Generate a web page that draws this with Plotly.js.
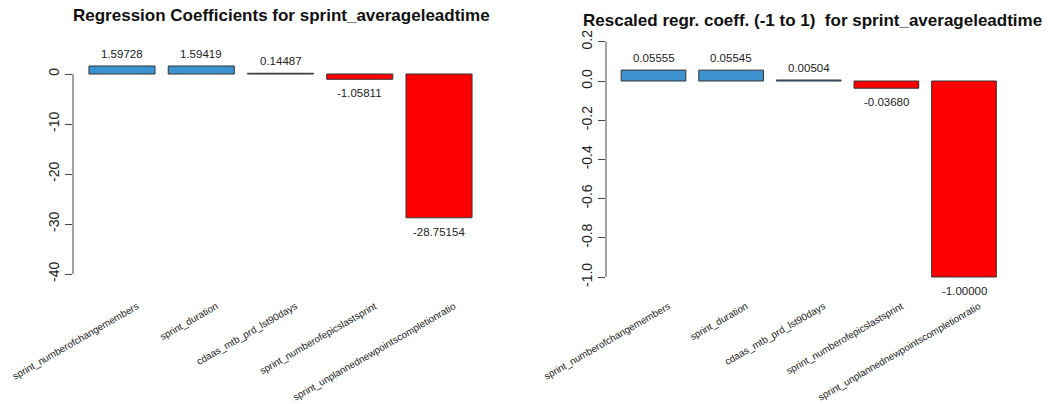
<!DOCTYPE html>
<html>
<head>
<meta charset="utf-8">
<script src="https://cdn.plot.ly/plotly-3.0.1.min.js"></script>
<style>html,body{margin:0;padding:0;background:#fff;}#chart{width:1049px;height:404px;}</style>
</head>
<body>
<div id="chart"></div>
<script>
const categories = ["sprint_numberofchangemembers", "sprint_duration", "cdaas_mtb_prd_lst90days", "sprint_numberofepicslastsprint", "sprint_unplannednewpointscompletionratio"];
const coefValues = [1.59728, 1.59419, 0.14487, -1.05811, -28.75154];
const rescaledValues = [0.05555, 0.05545, 0.00504, -0.03680, -1.00000];
const leftTicks = [0, -10, -20, -30, -40];
const rightTicks = [0.2, 0.0, -0.2, -0.4, -0.6, -0.8, -1.0];
const titleLeft = "Regression Coefficients for sprint_averageleadtime";
const titleRight = "Rescaled regr. coeff. (-1 to 1)\u00a0 for sprint_averageleadtime";

const W = 1049, H = 404;
const BLUE = "#3d92d0", RED = "#ff0000";
const FONT = "Liberation Sans, Arial, sans-serif";
const px = v => v / W;
const py = v => 1 - v / H;

function colorsFor(vals) { return vals.map(v => v >= 0 ? BLUE : RED); }

const traces = [
  {type: "bar", x: categories, y: coefValues, xaxis: "x", yaxis: "y",
   marker: {color: colorsFor(coefValues), line: {color: "#333", width: 1}}, hoverinfo: "x+y"},
  {type: "bar", x: categories, y: rescaledValues, xaxis: "x2", yaxis: "y2",
   marker: {color: colorsFor(rescaledValues), line: {color: "#333", width: 1}}, hoverinfo: "x+y"}
];

const annotations = [];
function valueLabels(vals, xa, ya) {
  vals.forEach((v, i) => {
    annotations.push({x: categories[i], y: v, xref: xa, yref: ya, text: v.toFixed(5),
      showarrow: false, yshift: v >= 0 ? 12 : -14, yanchor: "middle",
      font: {family: FONT, size: 11.5, color: "#222"}});
  });
}
valueLabels(coefValues, "x", "y");
valueLabels(rescaledValues, "x2", "y2");
annotations.push({x: px(281), y: py(15), xref: "paper", yref: "paper", text: "<b>" + titleLeft + "</b>",
  showarrow: false, xanchor: "center", yanchor: "middle", font: {family: FONT, size: 17, color: "#111"}});
annotations.push({x: px(812), y: py(20), xref: "paper", yref: "paper", text: "<b>" + titleRight + "</b>",
  showarrow: false, xanchor: "center", yanchor: "middle", font: {family: FONT, size: 17, color: "#111"}});

// left plot geometry: y=0 at 74px, 5 px/unit; plot area 40..290
const lTop = 40, lBot = 290, lZero = 74, lScale = 5;
const rTop = 30, rBot = 290, rZero = 81, rScale = 196;

const xCommon = {type: "category", showgrid: false, zeroline: false, showline: false,
  ticks: "", tickangle: -30, ticklabelshift: 15, ticklabelstandoff: 8,
  tickfont: {family: FONT, size: 9.8, color: "#222"}, automargin: false, fixedrange: true};
const yCommon = {showgrid: false, zeroline: false, showline: false, ticks: "outside", ticklen: 7,
  tickcolor: "#444", tickwidth: 1, tickangle: -90, tickfont: {family: FONT, size: 14, color: "#222"},
  automargin: false, fixedrange: true};

const layout = {
  width: W, height: H, margin: {l: 0, r: 0, t: 0, b: 0}, showlegend: false,
  paper_bgcolor: "#fff", plot_bgcolor: "#fff", bargap: 1/6,
  xaxis: Object.assign({}, xCommon, {domain: [px(73), px(488)], range: [-0.618, 4.618], anchor: "y"}),
  yaxis: Object.assign({}, yCommon, {domain: [py(lBot), py(lTop)], anchor: "x",
    range: [-(lBot - lZero) / lScale, (lZero - lTop) / lScale],
    tickmode: "array", tickvals: leftTicks, ticktext: leftTicks.map(String)}),
  xaxis2: Object.assign({}, xCommon, {domain: [px(606), px(1011.5)], range: [-0.612, 4.612], anchor: "y2"}),
  yaxis2: Object.assign({}, yCommon, {domain: [py(rBot), py(rTop)], anchor: "x2",
    range: [-(rBot - rZero) / rScale, (rZero - rTop) / rScale],
    tickmode: "array", tickvals: rightTicks, ticktext: rightTicks.map(v => v.toFixed(1))}),
  annotations: annotations,
  shapes: [
    {type: "line", xref: "paper", yref: "y", x0: px(73), x1: px(73),
     y0: Math.min(...leftTicks), y1: Math.max(...leftTicks), line: {color: "#444", width: 1}},
    {type: "line", xref: "paper", yref: "y2", x0: px(606), x1: px(606),
     y0: Math.min(...rightTicks), y1: Math.max(...rightTicks), line: {color: "#444", width: 1}}
  ]
};

Plotly.newPlot("chart", traces, layout, {displayModeBar: false, staticPlot: true});
</script>
</body>
</html>
